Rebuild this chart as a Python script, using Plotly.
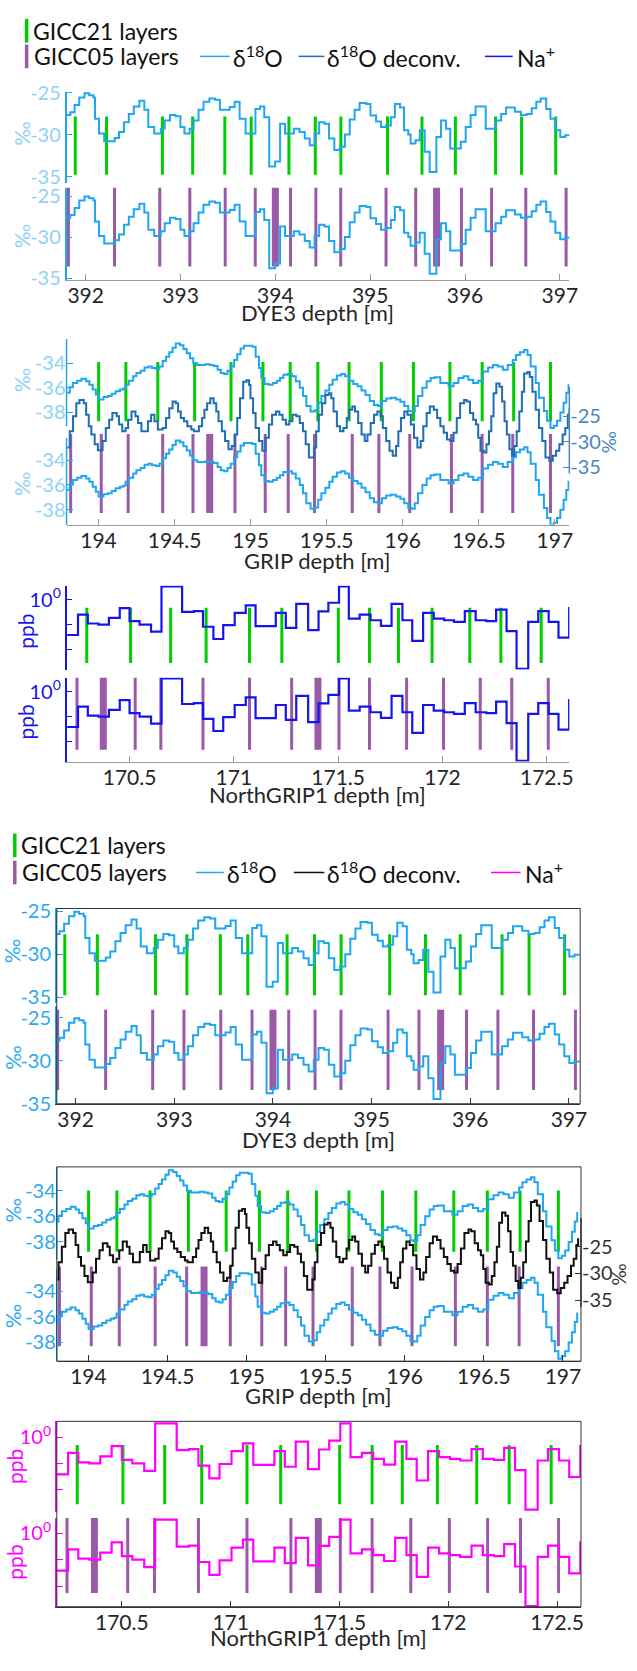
import plotly.graph_objects as go

W, H = 637, 1671
FONT = "Lato"

# ------------------------------------------------------------------ data
# DYE3 d18O (stairs: depth of each step start, permil)
dye3_depth = [
    391.793, 391.838, 391.883, 391.932, 391.987, 392.036, 392.081, 392.098, 392.140, 392.195,
    392.306, 392.351, 392.403, 392.455, 392.507, 392.566, 392.618, 392.660, 392.722, 392.792,
    392.833, 392.889, 392.947, 392.999, 393.041, 393.096, 393.138, 393.190, 393.242, 393.304,
    393.363, 393.415, 393.519, 393.571, 393.623, 393.686, 393.790, 393.838, 393.883, 393.935,
    393.998, 394.050, 394.102, 394.195, 394.254, 394.310, 394.362, 394.414, 394.462, 394.518,
    394.566, 394.622, 394.680, 394.733, 394.784, 394.836, 394.888, 394.958, 395.003, 395.062,
    395.114, 395.166, 395.218, 395.260, 395.315, 395.357, 395.402, 395.426, 395.478, 395.523,
    395.575, 395.627, 395.698, 395.747, 395.799, 395.844, 395.955, 396.007, 396.059, 396.111,
    396.218, 396.322, 396.381, 396.433, 396.526, 396.589, 396.651, 396.703, 396.752, 396.797,
    396.856, 396.901, 396.953, 397.004, 397.056, 397.108]
dye3_d18o = [
    -27.63, -27.31, -26.45, -25.55, -25.04, -25.27, -25.55, -28.10, -29.86, -30.76,
    -30.37, -29.67, -28.49, -27.51, -26.61, -25.94, -27.00, -29.08, -29.86, -29.27,
    -28.29, -27.63, -27.78, -29.08, -29.86, -29.27, -28.29, -27.00, -26.06, -25.67,
    -25.82, -27.00, -26.69, -26.06, -28.10, -29.86, -26.92, -26.61, -27.90, -33.78,
    -33.20, -28.69, -29.86, -29.27, -29.67, -30.45, -31.24, -29.86, -28.49, -28.69,
    -30.45, -31.82, -31.43, -29.98, -28.18, -27.00, -26.22, -26.33, -27.71, -28.41,
    -29.08, -28.88, -27.90, -26.33, -26.73, -29.47, -29.98, -31.04, -30.65, -29.47,
    -32.02, -34.45, -30.25, -28.29, -29.27, -31.63, -30.84, -29.08, -27.63, -26.61,
    -29.27, -28.29, -27.51, -26.73, -27.24, -27.63, -27.51, -26.84, -26.06, -25.67,
    -26.92, -28.10, -29.47, -30.25, -30.06, -30.06]
dye3_gicc21 = [391.890, 392.220, 392.809, 393.128, 393.467, 393.745, 394.143, 394.421,
               394.691, 395.183, 395.546, 395.898, 396.322, 396.596, 396.956]
dye3_gicc05 = [391.818, 392.304, 392.781, 393.098, 393.471, 393.788, 394.160, 394.427,
               394.689, 395.167, 395.480, 395.962, 396.280, 396.641, 397.066]
dye3_gicc05_uncertain = [394.000, 395.700]

# GRIP d18O
grip_depth = [
    193.795, 193.811, 193.832, 193.860, 193.888, 193.919, 193.940, 193.962, 193.983, 194.001,
    194.033, 194.061, 194.087, 194.113, 194.141, 194.163, 194.178, 194.199, 194.228, 194.249,
    194.277, 194.303, 194.329, 194.351, 194.379, 194.400, 194.422, 194.444, 194.465, 194.487,
    194.508, 194.536, 194.558, 194.580, 194.601, 194.623, 194.649, 194.703, 194.731, 194.757,
    194.783, 194.804, 194.826, 194.848, 194.869, 194.891, 194.912, 194.934, 194.956, 195.012,
    195.033, 195.055, 195.070, 195.092, 195.120, 195.146, 195.172, 195.193, 195.215, 195.243,
    195.271, 195.297, 195.323, 195.344, 195.366, 195.394, 195.422, 195.444, 195.465, 195.491,
    195.517, 195.539, 195.567, 195.595, 195.621, 195.647, 195.675, 195.703, 195.729, 195.755,
    195.783, 195.811, 195.837, 195.863, 195.891, 195.923, 195.956, 195.984, 196.010, 196.036,
    196.057, 196.079, 196.100, 196.129, 196.157, 196.183, 196.209, 196.247, 196.301, 196.334,
    196.366, 196.399, 196.431, 196.463, 196.496, 196.528, 196.561, 196.593, 196.625, 196.658,
    196.690, 196.723, 196.744, 196.770, 196.798, 196.820, 196.841, 196.874, 196.895, 196.928,
    196.949, 196.971, 196.993, 197.014, 197.036, 197.057, 197.075, 197.090, 197.096]
grip_d18o = [
    -36.41, -35.96, -35.61, -35.43, -35.27, -35.48, -35.75, -36.15, -36.55, -36.95,
    -36.76, -36.68, -36.49, -36.28, -36.15, -36.07, -35.75, -35.43, -35.08, -34.81,
    -34.63, -34.36, -34.28, -34.41, -34.47, -34.28, -33.83, -33.48, -33.13, -32.76,
    -32.41, -32.55, -32.87, -33.21, -33.61, -34.01, -34.15, -34.09, -34.15, -34.23,
    -34.55, -34.81, -34.89, -34.63, -34.28, -33.75, -33.29, -32.81, -32.60, -32.68,
    -33.48, -34.41, -35.21, -35.69, -35.75, -35.61, -35.43, -35.21, -34.95, -34.89,
    -35.08, -35.48, -36.01, -36.68, -37.48, -37.93, -37.83, -37.21, -36.68, -36.23,
    -35.75, -35.35, -35.00, -34.89, -35.08, -35.43, -35.69, -35.88, -36.23, -36.60,
    -37.08, -37.40, -37.48, -37.08, -36.87, -36.81, -36.95, -37.13, -37.48, -37.88,
    -37.93, -37.48, -36.68, -36.01, -35.48, -35.21, -35.16, -35.61, -35.88, -35.61,
    -35.21, -35.08, -35.35, -35.61, -35.43, -34.68, -34.36, -34.15, -34.28, -34.55,
    -34.15, -33.75, -33.35, -33.13, -32.95, -33.35, -34.28, -35.61, -36.81, -37.88,
    -38.68, -39.27, -39.08, -38.68, -38.01, -37.21, -36.41, -35.75, -35.75]

# GRIP deconvolved d18O
grip_deconv_depth = [
    193.795, 193.811, 193.832, 193.854, 193.875, 193.903, 193.919, 193.936, 193.953, 193.975,
    193.996, 194.027, 194.048, 194.070, 194.091, 194.120, 194.135, 194.156, 194.178, 194.195,
    194.217, 194.243, 194.260, 194.282, 194.325, 194.346, 194.368, 194.390, 194.422, 194.444,
    194.465, 194.487, 194.508, 194.523, 194.541, 194.562, 194.584, 194.610, 194.627, 194.660,
    194.681, 194.696, 194.714, 194.735, 194.757, 194.774, 194.789, 194.811, 194.832, 194.854,
    194.876, 194.897, 194.912, 194.930, 194.951, 194.973, 194.990, 194.999, 195.016, 195.033,
    195.055, 195.077, 195.098, 195.120, 195.141, 195.167, 195.189, 195.210, 195.232, 195.254,
    195.275, 195.301, 195.323, 195.344, 195.362, 195.383, 195.416, 195.431, 195.448, 195.470,
    195.491, 195.513, 195.530, 195.545, 195.567, 195.588, 195.610, 195.632, 195.647, 195.668,
    195.686, 195.707, 195.729, 195.750, 195.768, 195.789, 195.811, 195.833, 195.854, 195.869,
    195.891, 195.913, 195.934, 195.956, 195.971, 195.988, 196.010, 196.031, 196.053, 196.074,
    196.096, 196.118, 196.135, 196.157, 196.178, 196.204, 196.226, 196.247, 196.269, 196.291,
    196.312, 196.334, 196.355, 196.377, 196.403, 196.420, 196.442, 196.463, 196.481, 196.496,
    196.511, 196.533, 196.550, 196.567, 196.582, 196.597, 196.615, 196.636, 196.653, 196.669,
    196.684, 196.701, 196.718, 196.733, 196.749, 196.766, 196.783, 196.798, 196.820, 196.835,
    196.852, 196.874, 196.895, 196.917, 196.938, 196.964, 196.986, 197.008, 197.029, 197.051,
    197.068, 197.085, 197.096]
grip_d18o_deconv = [
    -31.13, -27.90, -25.00, -22.42, -21.77, -22.42, -24.68, -26.94, -28.55, -30.48,
    -31.65, -29.84, -27.26, -25.65, -24.35, -25.00, -26.61, -27.90, -27.26, -25.65,
    -24.03, -25.00, -26.29, -27.90, -25.97, -24.68, -25.97, -27.58, -27.26, -25.32,
    -23.39, -22.10, -22.42, -24.03, -25.32, -25.97, -26.94, -27.58, -27.90, -26.94,
    -25.32, -23.71, -22.42, -21.45, -22.42, -24.03, -25.97, -27.90, -29.84, -31.45,
    -30.81, -28.55, -25.32, -21.45, -18.23, -17.90, -18.87, -21.45, -24.35, -27.26,
    -29.84, -31.77, -29.19, -26.61, -24.68, -24.03, -24.68, -25.65, -26.61, -25.97,
    -24.68, -25.00, -26.29, -27.90, -30.48, -33.06, -31.13, -27.90, -24.68, -22.42,
    -20.81, -20.48, -21.45, -24.03, -26.94, -27.90, -27.26, -25.32, -23.71, -23.06,
    -24.03, -26.29, -28.55, -29.84, -28.55, -26.29, -24.68, -24.03, -25.00, -27.26,
    -29.84, -31.77, -32.74, -30.81, -27.90, -25.32, -24.03, -24.68, -26.61, -29.19,
    -31.13, -29.84, -26.94, -24.35, -23.06, -23.71, -25.32, -26.94, -28.23, -29.52,
    -29.84, -28.23, -25.32, -22.42, -21.77, -22.10, -24.35, -25.65, -26.61, -29.19,
    -31.77, -32.10, -30.48, -27.90, -25.00, -20.48, -18.55, -19.19, -22.10, -25.97,
    -28.55, -31.45, -32.74, -30.81, -27.90, -24.03, -20.16, -16.61, -16.29, -17.26,
    -20.16, -23.71, -27.26, -29.84, -33.06, -33.71, -32.74, -31.77, -30.48, -28.55,
    -27.26, -24.68, -23.39]
grip_gicc21 = [194.001, 194.180, 194.390, 194.632, 194.871, 195.081, 195.260, 195.442,
               195.647, 195.859, 196.070, 196.310, 196.522, 196.729, 196.971]
grip_gicc05 = [193.817, 194.018, 194.195, 194.422, 194.621, 194.897, 195.096, 195.247,
               195.420, 195.668, 195.843, 196.046, 196.320, 196.522, 196.723, 196.971]
grip_gicc05_uncertain = [194.731]

# NorthGRIP1 Na+ (ppb)
ngrip_depth = [
    170.201, 170.253, 170.300, 170.351, 170.401, 170.453, 170.500, 170.548, 170.603, 170.653,
    170.752, 170.808, 170.852, 170.902, 170.949, 171.004, 171.057, 171.104, 171.201, 171.249,
    171.299, 171.356, 171.406, 171.453, 171.504, 171.551, 171.603, 171.655, 171.705, 171.756,
    171.808, 171.855, 171.907, 171.958, 172.008, 172.055, 172.107, 172.159, 172.210, 172.257,
    172.307, 172.355, 172.411, 172.459, 172.509, 172.556, 172.607]
ngrip_na = [
    0.197, 0.501, 0.333, 0.318, 0.431, 0.676, 0.371, 0.318, 0.229, 1.825,
    0.565, 0.590, 0.287, 0.164, 0.309, 0.540, 0.762, 0.296, 0.540, 0.274,
    0.822, 0.247, 0.582, 0.861, 1.825, 0.418, 0.501, 0.387, 0.300, 0.822,
    0.387, 0.150, 0.540, 0.418, 0.387, 0.360, 0.590, 0.387, 0.371, 0.627,
    0.236, 0.042, 0.360, 0.590, 0.360, 0.175, 0.708]
ngrip_gicc21 = [170.295, 170.505, 170.697, 170.867, 171.075, 171.230, 171.501, 171.650,
                171.789, 171.950, 172.131, 172.280, 172.473]
ngrip_gicc05 = [170.248, 170.527, 170.650, 170.852, 171.075, 171.277, 171.504, 171.650,
                171.828, 172.005, 172.181, 172.332, 172.507]
ngrip_gicc05_uncertain = [170.374, 171.403]

# tick labels
dye3_xticks = [392, 393, 394, 395, 396, 397]
grip_xticks = [194, 194.5, 195, 195.5, 196, 196.5, 197]
ngrip_xticks = [170.5, 171, 171.5, 172, 172.5]
dye3_yticks = [-25, -30, -35]
grip_yticks = [-34, -36, -38]
deconv_yticks = [-25, -30, -35]
na_major_ticks = [1.0]
na_major_text = ["10<sup>0</sup>"]
na_minor_ticks = [10 ** -0.5, 0.1]

# ------------------------------------------------------------------ styles
GREEN = "#00CC00"
PURPLE = "#9A5AA8"
D18O = "#1EA7F0"

STY = [
    dict(  # top copy
        deconv="#1F6DB2", na="#1414F0", ytick_d18o="#8ED2F4", ytick_dec="#4A86C2",
        ytick_na="#1414F0", xline="#9A9A9A", box=False,
        legend=dict(gx=27, r1=19, r2=45, t1=31, t2=32, l1=(203, 233), t3=234,
                    l2=(303, 329), t4=330, l3=(492, 520), t5=522),
        dye3=dict(x=(67.5, 577.5), xr=(391.798, 397.100), up=(81, 173), upr=(-35.71, -24.88),
                  lo=(178, 272), lor=(-35.24, -23.96), green=(106, 165), purple=(178, 258),
                  title=305, ylx=21.8, yl=(123, 227)),
        grip=dict(x=(67.5, 577.5), xr=(193.790, 197.095), area=(331.7, 520),
                  upr=(-47.12, -32.06), lor=(-39.24, -24.18), decr=(-46.28, -9.85),
                  left=[(331.7, 420), (432, 520)], right=(380, 468), green=(355, 415),
                  purple=(428, 508), title=556, ylx=21.8, yl=(373, 478), yr=(618, 436)),
        ngrip=dict(x=(67.5, 577.5), xr=(170.198, 172.608), up=(581.7, 666.7),
                   upr=(-1.392, 0.2745), lo=(675, 760), lor=(-1.392, 0.2745),
                   green=(604, 660), purple=(673, 748), title=793, ylx=25.8, yl=(628, 720)),
    ),
    dict(  # bottom copy
        deconv="#111111", na="#FF00FF", ytick_d18o="#2AAAF0", ytick_dec="#333333",
        ytick_na="#FF00FF", xline="#333333", box=True,
        legend=dict(gx=15, r1=845, r2=872.5, t1=19, t2=20, l1=(199, 227), t3=228,
                    l2=(298, 329), t4=330, l3=(498, 528), t5=530),
        dye3=dict(x=(57.6, 588.5), xr=(391.809, 397.114), up=(909, 1005), upr=(-35.69, -24.66),
                  lo=(1008, 1107), lor=(-35.0, -23.62), green=(935, 997), purple=(1011.7, 1093),
                  title=1143, ylx=12.5, yl=(952, 1060)),
        grip=dict(x=(57.6, 589.3), xr=(193.800, 197.114), area=(1171, 1368),
                  upr=(-47.31, -32.15), lor=(-39.46, -24.31), decr=(-46.48, -10.0),
                  left=[(1171, 1265), (1275, 1368)], right=(1223, 1313), green=(1195, 1257),
                  purple=(1272, 1353), title=1403, ylx=12.5, yl=(1215, 1322), yr=(627, 1280)),
        ngrip=dict(x=(57.6, 589.3), xr=(170.201, 172.610), up=(1429, 1521),
                   upr=(-1.423, 0.30), lo=(1527, 1617), lor=(-1.391, 0.294),
                   green=(1453, 1513), purple=(1525, 1603), title=1648, ylx=14.5, yl=(1475, 1572)),
    ),
]

TICKFONT = 21
YTICKFONT = 20
TITLEFONT = 22
LEGFONT = 23
YLABFONT = 21


def px(x):
    return x / W


def py(y):
    return 1 - y / H


def xdom(a, b):
    return [a / W, b / W]


def ydom(top, bot):
    return [1 - bot / H, 1 - top / H]


def px2val(p, top, bot, rng, log=False):
    f = (p - top) / (bot - top)
    v = rng[1] - f * (rng[1] - rng[0])
    return 10 ** v if log else v


def fmt(v):
    return ("%g" % v)


fig = go.Figure()
layout = dict(width=W, height=H, margin=dict(l=0, r=0, t=0, b=0), autosize=False,
              paper_bgcolor="white", plot_bgcolor="rgba(0,0,0,0)", showlegend=False,
              font=dict(family=FONT, color="#262626"))
shapes = []
annots = []


def layer_trace(depths, y0, y1, color, width, xa, ya):
    xs, ys = [], []
    for d in depths:
        xs += [d, d, None]
        ys += [y0, y1, None]
    return go.Scatter(x=xs, y=ys, mode="lines", line=dict(color=color, width=width),
                      xaxis=xa, yaxis=ya, hoverinfo="skip", showlegend=False)


def stairs(x, y, color, width, xa, ya):
    return go.Scatter(x=x, y=y, mode="lines", line=dict(color=color, width=width, shape="hv"),
                      xaxis=xa, yaxis=ya, hoverinfo="skip", showlegend=False)


def xaxis_cfg(c, ticks, anchor, s):
    return dict(domain=xdom(*c["x"]), range=list(c["xr"]), anchor=anchor,
                tickmode="array", tickvals=ticks, ticktext=[fmt(t) for t in ticks],
                ticks="inside", ticklen=6, tickcolor=s["xline"], tickwidth=1,
                ticklabelstandoff=-3,
                showline=True, linecolor=s["xline"], linewidth=1, showgrid=False,
                zeroline=False, tickfont=dict(size=TICKFONT, color="#262626", family=FONT))


def yaxis_cfg(dom, rng, ticks, text, anchor, col, tcol, showline=True, log=False, side="left",
              overlaying=None, minor=None):
    d = dict(domain=dom, range=list(rng), anchor=anchor, side=side,
             tickmode="array", tickvals=ticks, ticktext=text,
             ticks="inside", ticklen=6, tickcolor=col, tickwidth=1,
             showline=showline, linecolor=col, linewidth=1.5, showgrid=False, zeroline=False,
             tickfont=dict(size=YTICKFONT, color=tcol, family=FONT))
    if log:
        d["type"] = "log"
    if overlaying:
        d["overlaying"] = overlaying
    if minor:
        d["minor"] = dict(tickmode="array", tickvals=minor, ticks="inside", ticklen=6,
                          tickcolor=col, tickwidth=1, showgrid=False)
    return d


def text(x, y, s, size, color, anchor="left", angle=0):
    annots.append(dict(x=px(x), y=py(y), xref="paper", yref="paper", text=s, showarrow=False,
                       xanchor=anchor, yanchor="middle", textangle=angle,
                       font=dict(size=size, color=color, family=FONT)))


def vline(x, y0, y1, color, width):
    shapes.append(dict(type="line", xref="paper", yref="paper", x0=px(x), x1=px(x),
                       y0=py(y0), y1=py(y1), line=dict(color=color, width=width)))


def hline(x0, x1, y, color, width):
    shapes.append(dict(type="line", xref="paper", yref="paper", x0=px(x0), x1=px(x1),
                       y0=py(y), y1=py(y), line=dict(color=color, width=width)))


for h, s in enumerate(STY):
    xb = 3 * h
    yb = 7 * h
    X = ["x%d" % (xb + i) for i in (1, 2, 3)]
    Y = ["y%d" % (yb + i) for i in range(1, 8)]
    XK = ["xaxis%d" % (xb + i) for i in (1, 2, 3)]
    YK = ["yaxis%d" % (yb + i) for i in range(1, 8)]
    d18_tick_text = ["%d" % t for t in dye3_yticks]

    # ---------------- legend
    L = s["legend"]
    vline(L["gx"], L["r1"] - 12, L["r1"] + 12, GREEN, 3.5)
    text(L["t1"], L["r1"], "GICC21 layers", LEGFONT, "#111111")
    vline(L["gx"], L["r2"] - 12, L["r2"] + 12, PURPLE, 3.5)
    text(L["t2"], L["r2"], "GICC05 layers", LEGFONT, "#111111")
    hline(L["l1"][0], L["l1"][1], L["r2"], D18O, 1.5)
    text(L["t3"], L["r2"], "δ<sup>18</sup>O", LEGFONT, "#111111")
    hline(L["l2"][0], L["l2"][1], L["r2"], s["deconv"], 1.5)
    text(L["t4"], L["r2"], "δ<sup>18</sup>O deconv.", LEGFONT, "#111111")
    hline(L["l3"][0], L["l3"][1], L["r2"], s["na"], 1.5)
    text(L["t5"], L["r2"], "Na<sup>+</sup>", LEGFONT, "#111111")

    # ---------------- DYE3
    c = s["dye3"]
    layout[XK[0]] = xaxis_cfg(c, dye3_xticks, Y[1], s)
    layout[YK[0]] = yaxis_cfg(ydom(*c["up"]), c["upr"], dye3_yticks, d18_tick_text, X[0],
                              D18O, s["ytick_d18o"])
    layout[YK[1]] = yaxis_cfg(ydom(*c["lo"]), c["lor"], dye3_yticks, d18_tick_text, X[0],
                              D18O, s["ytick_d18o"])
    g0 = px2val(c["green"][0], c["up"][0], c["up"][1], c["upr"])
    g1 = px2val(c["green"][1], c["up"][0], c["up"][1], c["upr"])
    p0 = px2val(c["purple"][0], c["lo"][0], c["lo"][1], c["lor"])
    p1 = px2val(c["purple"][1], c["lo"][0], c["lo"][1], c["lor"])
    fig.add_trace(layer_trace(dye3_gicc21, g0, g1, GREEN, 3, X[0], Y[0]))
    fig.add_trace(layer_trace(dye3_gicc05, p0, p1, PURPLE, 3, X[0], Y[1]))
    fig.add_trace(layer_trace(dye3_gicc05_uncertain, p0, p1, PURPLE, 7, X[0], Y[1]))
    fig.add_trace(stairs(dye3_depth, dye3_d18o, D18O, 2, X[0], Y[0]))
    fig.add_trace(stairs(dye3_depth, dye3_d18o, D18O, 2, X[0], Y[1]))
    xm = (c["x"][0] + c["x"][1]) / 2
    text(xm, c["title"], "DYE3 depth [m]", TITLEFONT, "#262626", anchor="center")
    text(c["ylx"], c["yl"][0], "‰", YLABFONT, s["ytick_d18o"], anchor="center", angle=-90)
    text(c["ylx"], c["yl"][1], "‰", YLABFONT, s["ytick_d18o"], anchor="center", angle=-90)
    if s["box"]:
        shapes.append(dict(type="rect", xref="paper", yref="paper", x0=px(c["x"][0]),
                           x1=px(c["x"][1]), y0=py(c["lo"][1]), y1=py(c["up"][0]),
                           line=dict(color="#333333", width=1)))

    # ---------------- GRIP
    c = s["grip"]
    a0, a1 = c["area"]
    layout[XK[1]] = xaxis_cfg(c, grip_xticks, Y[2], s)
    gt = ["%d" % t for t in grip_yticks]
    layout[YK[2]] = yaxis_cfg(ydom(a0, a1), c["upr"], grip_yticks, gt, X[1], D18O,
                              s["ytick_d18o"], showline=False)
    layout[YK[3]] = yaxis_cfg(ydom(a0, a1), c["lor"], grip_yticks, gt, X[1], D18O,
                              s["ytick_d18o"], showline=False, overlaying=Y[2])
    layout[YK[4]] = yaxis_cfg(ydom(a0, a1), c["decr"], deconv_yticks,
                              ["%d" % t for t in deconv_yticks], X[1], s["ytick_dec"],
                              s["ytick_dec"], showline=False, side="right", overlaying=Y[2])
    g0 = px2val(c["green"][0], a0, a1, c["upr"])
    g1 = px2val(c["green"][1], a0, a1, c["upr"])
    p0 = px2val(c["purple"][0], a0, a1, c["upr"])
    p1 = px2val(c["purple"][1], a0, a1, c["upr"])
    fig.add_trace(layer_trace(grip_gicc21, g0, g1, GREEN, 3, X[1], Y[2]))
    fig.add_trace(layer_trace(grip_gicc05, p0, p1, PURPLE, 3, X[1], Y[2]))
    fig.add_trace(layer_trace(grip_gicc05_uncertain, p0, p1, PURPLE, 7, X[1], Y[2]))
    fig.add_trace(stairs(grip_depth, grip_d18o, D18O, 2, X[1], Y[2]))
    fig.add_trace(stairs(grip_depth, grip_d18o, D18O, 2, X[1], Y[3]))
    fig.add_trace(stairs(grip_deconv_depth, grip_d18o_deconv, s["deconv"], 2, X[1], Y[4]))
    for (t0, t1) in c["left"]:
        vline(c["x"][0], t0, t1, D18O, 1.5)
    vline(c["x"][1], c["right"][0], c["right"][1], s["ytick_dec"], 1.5)
    xm = (c["x"][0] + c["x"][1]) / 2
    text(xm, c["title"], "GRIP depth [m]", TITLEFONT, "#262626", anchor="center")
    text(c["ylx"], c["yl"][0], "‰", YLABFONT, s["ytick_d18o"], anchor="center", angle=-90)
    text(c["ylx"], c["yl"][1], "‰", YLABFONT, s["ytick_d18o"], anchor="center", angle=-90)
    text(c["yr"][0], c["yr"][1], "‰", 19, s["ytick_dec"], anchor="center", angle=-90)
    if s["box"]:
        shapes.append(dict(type="rect", xref="paper", yref="paper", x0=px(c["x"][0]),
                           x1=px(c["x"][1]), y0=py(a1), y1=py(a0),
                           line=dict(color="#333333", width=1)))

    # ---------------- NorthGRIP1
    c = s["ngrip"]
    layout[XK[2]] = xaxis_cfg(c, ngrip_xticks, Y[6], s)
    layout[YK[5]] = yaxis_cfg(ydom(*c["up"]), c["upr"], na_major_ticks, na_major_text, X[2],
                              s["na"], s["ytick_na"], log=True, minor=na_minor_ticks)
    layout[YK[6]] = yaxis_cfg(ydom(*c["lo"]), c["lor"], na_major_ticks, na_major_text, X[2],
                              s["na"], s["ytick_na"], log=True, minor=na_minor_ticks)
    g0 = px2val(c["green"][0], c["up"][0], c["up"][1], c["upr"], log=True)
    g1 = px2val(c["green"][1], c["up"][0], c["up"][1], c["upr"], log=True)
    p0 = px2val(c["purple"][0], c["lo"][0], c["lo"][1], c["lor"], log=True)
    p1 = px2val(c["purple"][1], c["lo"][0], c["lo"][1], c["lor"], log=True)
    fig.add_trace(layer_trace(ngrip_gicc21, g0, g1, GREEN, 3, X[2], Y[5]))
    fig.add_trace(layer_trace(ngrip_gicc05, p0, p1, PURPLE, 3, X[2], Y[6]))
    fig.add_trace(layer_trace(ngrip_gicc05_uncertain, p0, p1, PURPLE, 7, X[2], Y[6]))
    fig.add_trace(stairs(ngrip_depth, ngrip_na, s["na"], 2.2, X[2], Y[5]))
    fig.add_trace(stairs(ngrip_depth, ngrip_na, s["na"], 2.2, X[2], Y[6]))
    xm = (c["x"][0] + c["x"][1]) / 2
    text(xm, c["title"], "NorthGRIP1 depth [m]", TITLEFONT, "#262626", anchor="center")
    text(c["ylx"], c["yl"][0], "ppb", YLABFONT, s["ytick_na"], anchor="center", angle=-90)
    text(c["ylx"], c["yl"][1], "ppb", YLABFONT, s["ytick_na"], anchor="center", angle=-90)
    if s["box"]:
        shapes.append(dict(type="rect", xref="paper", yref="paper", x0=px(c["x"][0]),
                           x1=px(c["x"][1]), y0=py(c["lo"][1]), y1=py(c["up"][0]),
                           line=dict(color="#333333", width=1)))

layout["shapes"] = shapes
layout["annotations"] = annots
fig.update_layout(**layout)
fig.write_html("out.html", config={"displayModeBar": False},
               post_script="document.body.style.margin='0px';")
